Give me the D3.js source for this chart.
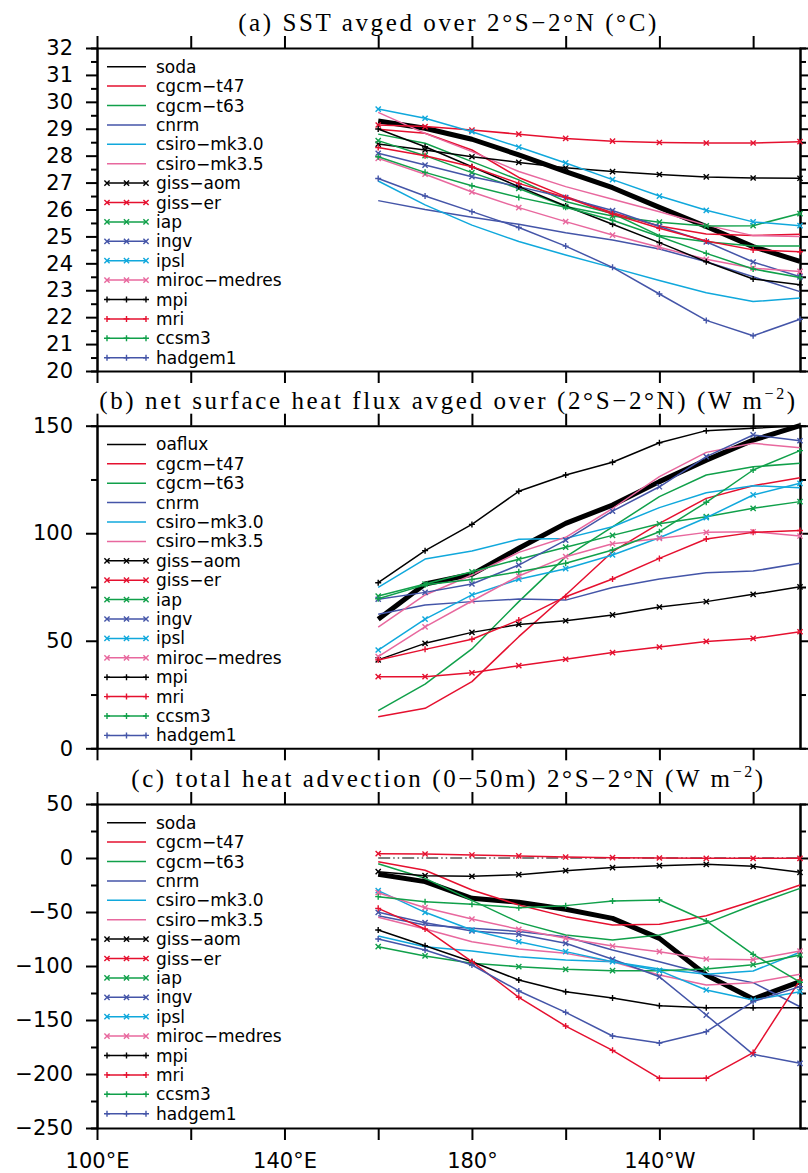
<!DOCTYPE html>
<html><head><meta charset="utf-8">
<script src="https://cdn.jsdelivr.net/npm/d3@7"></script>
<style>body{margin:0;background:#fff}svg{display:block}</style>
</head><body>
<svg id="chart" width="808" height="1173"></svg>
<script>
// ---------- categories ----------
const lon = [160, 170, 180, 190, 200, 210, 220, 230, 240, 250];
const lonTicks = [100, 120, 140, 160, 180, 200, 220, 240];
const lonLabels = {100: "100°E", 140: "140°E", 180: "180°", 220: "140°W"};
const namesA = ["soda","cgcm−t47","cgcm−t63","cnrm","csiro−mk3.0","csiro−mk3.5","giss−aom","giss−er","iap","ingv","ipsl","miroc−medres","mpi","mri","ccsm3","hadgem1"];
const namesB = ["oaflux","cgcm−t47","cgcm−t63","cnrm","csiro−mk3.0","csiro−mk3.5","giss−aom","giss−er","iap","ingv","ipsl","miroc−medres","mpi","mri","ccsm3","hadgem1"];
const namesC = namesA;
const seriesColors = ["#000000","#e5102f","#10a04a","#4455a8","#10a8dc","#e8689e","#000000","#e5102f","#10a04a","#4455a8","#10a8dc","#e8689e","#000000","#e5102f","#10a04a","#4455a8"];
const seriesMarkers = ["none","none","none","none","none","none","x","x","x","x","x","x","+","+","+","+"];

// ---------- (a) SST ----------
const sstSoda    = [29.29,29.02,28.61,28.03,27.41,26.81,26.08,25.37,24.62,24.07];
const sstCgcmT47 = [28.98,28.83,28.21,27.19,26.48,25.88,25.39,25.09,25.03,25.08];
const sstCgcmT63 = [28.80,28.46,27.78,27.10,26.30,25.85,25.03,24.80,24.64,24.64];
const sstCnrm    = [26.33,26.00,25.71,25.45,25.14,24.87,24.53,24.06,23.50,22.95];
const sstCsiro30 = [27.06,26.17,25.42,24.81,24.31,23.84,23.36,22.91,22.58,22.71];
const sstCsiro35 = [29.61,28.83,28.15,27.41,26.85,26.38,25.92,25.42,25.03,25.00];
const sstGissAom = [28.43,28.21,27.96,27.75,27.55,27.41,27.30,27.21,27.17,27.16];
const sstGissEr  = [29.14,29.08,28.95,28.80,28.64,28.54,28.49,28.47,28.47,28.52];
const sstIap     = [28.56,28.00,27.37,26.78,26.11,25.76,25.53,25.39,25.40,25.85];
const sstIngv    = [28.09,27.65,27.22,26.85,26.44,25.96,25.37,24.80,24.05,23.50];
const sstIpsl    = [29.73,29.39,28.89,28.32,27.73,27.11,26.50,25.97,25.54,25.40];
const sstMiroc   = [27.90,27.31,26.65,26.07,25.55,25.05,24.60,24.15,23.82,23.70];
const sstMpi     = [28.99,28.33,27.59,26.85,26.13,25.45,24.77,24.06,23.42,23.20];
const sstMri     = [28.30,28.00,27.59,26.97,26.45,25.83,25.30,24.83,24.50,24.43];
const sstCcsm3   = [27.96,27.38,26.88,26.45,26.08,25.60,25.00,24.37,23.79,23.47];
const sstHadgem1 = [27.15,26.50,25.92,25.33,24.64,23.85,22.86,21.88,21.31,21.92];

// ---------- (b) net surface heat flux ----------
const qOaflux  = [60.0,76.4,80.9,93.0,104.6,113.1,124.0,134.0,143.3,150.0];
const qCgcmT47 = [14.7,18.6,31.0,51.9,71.3,91.4,104.6,116.2,122.1,125.8];
const qCgcmT63 = [17.5,29.8,46.2,68.2,89.0,103.0,117.0,127.1,130.9,132.5];
const qCnrm    = [62.3,66.6,68.2,69.4,68.9,74.8,78.7,81.6,82.4,86.0];
const qCsiro30 = [74.8,88.0,91.7,97.2,97.6,103.0,111.9,118.8,122.1,121.2];
const qCsiro35 = [56.3,71.3,80.6,91.1,98.1,111.5,126.3,137.6,141.8,139.8];
const qGissAom = [41.1,48.8,53.9,57.6,59.3,62.0,65.7,68.2,71.6,75.1];
const qGissEr  = [33.3,33.3,35.1,38.4,41.4,44.5,47.1,49.7,51.1,54.2];
const qIap     = [70.8,76.4,82.1,87.9,93.5,99.0,104.4,107.7,111.6,114.7];
const qIngv    = [69.3,72.5,76.4,85.2,96.8,110.3,121.6,135.6,145.7,143.0];
const qIpsl    = [45.7,60.1,71.3,78.6,83.5,89.9,97.9,107.2,117.8,123.2];
const qMiroc   = [42.6,56.5,68.5,80.1,89.1,95.1,97.6,100.4,100.7,98.7];
const qMpi     = [77.0,91.9,104.1,119.5,127.1,133.0,142.1,147.7,148.8,150.0];
const qMri     = [41.1,46.0,50.7,59.6,70.5,78.7,88.3,97.3,100.4,101.3];
const qCcsm3   = [69.5,76.0,78.5,82.1,86.0,92.2,100.7,114.4,129.4,138.4];
const qHadgem1 = null;

// ---------- (c) total heat advection ----------
const advSoda    = [-15.1,-21.9,-37.3,-41.0,-47.5,-55.9,-74.4,-108.3,-130.6,-114.5];
const advCgcmT47 = [-3.4,-11.4,-29.6,-43.5,-54.3,-62.0,-61.4,-53.4,-39.8,-25.0];
const advCgcmT63 = [-5.3,-18.8,-39.2,-59.6,-71.3,-75.9,-71.3,-60.5,-43.5,-28.1];
const advCnrm    = [-53.4,-62.0,-65.1,-68.0,-73.0,-85.2,-96.0,-107.4,-115.4,-137.7];
const advCsiro30 = [-72.2,-82.1,-86.1,-91.4,-94.4,-96.0,-102.8,-107.7,-104.6,-87.3];
const advCsiro35 = [-54.9,-65.7,-77.5,-84.3,-88.3,-96.0,-108.3,-117.6,-115.4,-107.7];
const advGissAom = [-12.7,-16.4,-17.0,-15.4,-11.7,-8.9,-7.1,-5.9,-7.7,-13.3];
const advGissEr  = [4.0,3.7,2.8,1.9,0.9,0.3,0.0,-0.3,-0.3,-0.3];
const advIap     = [-82.1,-90.7,-97.5,-100.6,-103.1,-104.3,-104.3,-102.8,-98.8,-89.8];
const advIngv    = [-50.3,-59.9,-67.6,-70.7,-79.0,-93.8,-110.0,-145.4,-181.8,-190.1];
const advIpsl    = [-30.2,-50.3,-66.7,-77.5,-86.7,-96.0,-104.3,-122.2,-131.5,-123.8];
const advMiroc   = [-32.1,-46.0,-56.5,-66.0,-74.4,-81.5,-86.7,-93.5,-94.1,-86.1];
const advMpi     = [-66.7,-81.2,-96.0,-113.0,-123.8,-129.6,-136.7,-138.6,-138.6,-138.6];
const advMri     = [-46.6,-65.7,-96.0,-129.0,-155.6,-178.1,-204.0,-204.0,-180.2,-113.0];
const advCcsm3   = [-35.8,-40.4,-42.9,-46.0,-44.1,-39.8,-38.9,-58.3,-89.2,-115.0];
const advHadgem1 = [-75.0,-85.2,-99.1,-123.1,-142.9,-164.8,-171.3,-160.8,-133.0,-119.1];
const advZeroRef = [0,0,0,0,0,0,0,0,0,0];

// ---------- layout ----------
const svg = d3.select("#chart");
const L = 97, R = 800;
const x = d3.scaleLinear().domain([100, 250]).range([L, R]);

const panels = [
  { top: 48, bottom: 371, domain: [20, 32], major: d3.range(20, 33, 1), minor: d3.range(20.5, 32, 1),
    title: ["(a) SST avged over 2°S−2°N (°C)", null, null], names: namesA,
    data: [sstSoda,sstCgcmT47,sstCgcmT63,sstCnrm,sstCsiro30,sstCsiro35,sstGissAom,sstGissEr,sstIap,sstIngv,sstIpsl,sstMiroc,sstMpi,sstMri,sstCcsm3,sstHadgem1] },
  { top: 425.7, bottom: 748.3, domain: [0, 150], major: [0, 50, 100, 150], minor: [25, 75, 125],
    title: ["(b) net surface heat flux avged over (2°S−2°N) (W m", "−2", ")"], names: namesB,
    data: [qOaflux,qCgcmT47,qCgcmT63,qCnrm,qCsiro30,qCsiro35,qGissAom,qGissEr,qIap,qIngv,qIpsl,qMiroc,qMpi,qMri,qCcsm3,qHadgem1] },
  { top: 804, bottom: 1128, domain: [-250, 50], major: d3.range(-250, 51, 50), minor: d3.range(-225, 50, 50),
    title: ["(c) total heat advection (0−50m) 2°S−2°N (W m", "−2", ")"], names: namesC, zero: advZeroRef,
    data: [advSoda,advCgcmT47,advCgcmT63,advCnrm,advCsiro30,advCsiro35,advGissAom,advGissEr,advIap,advIngv,advIpsl,advMiroc,advMpi,advMri,advCcsm3,advHadgem1], xlabels: true }
];

function drawMarker(g, type, cx, cy, color) {
  if (type === "x") {
    const s = 2.6;
    g.append("path").attr("d", `M${cx-s},${cy-s}L${cx+s},${cy+s}M${cx-s},${cy+s}L${cx+s},${cy-s}`)
      .attr("stroke", color).attr("stroke-width", 1.4).attr("fill", "none");
  } else if (type === "+") {
    const s = 3;
    g.append("path").attr("d", `M${cx-s},${cy}L${cx+s},${cy}M${cx},${cy-s}L${cx},${cy+s}`)
      .attr("stroke", color).attr("stroke-width", 1.4).attr("fill", "none");
  }
}

const tickFont = "DejaVu Sans, Verdana, sans-serif";

panels.forEach((p, pi) => {
  const y = d3.scaleLinear().domain(p.domain).range([p.bottom, p.top]);
  const g = svg.append("g");

  // title
  const t = g.append("text").attr("x", (L + R) / 2).attr("y", p.top - 17)
    .attr("text-anchor", "middle").attr("font-family", "Liberation Serif, Times New Roman, serif")
    .attr("font-size", 25).attr("letter-spacing", 2.6).attr("fill", "#000");
  t.append("tspan").text(p.title[0]);
  if (p.title[1]) {
    t.append("tspan").attr("dy", -10).attr("font-size", 16).text(p.title[1]);
    t.append("tspan").attr("dy", 10).text(p.title[2]);
  }

  // axes
  const styleAxis = sel => {
    sel.selectAll(".domain").attr("stroke", "#000").attr("stroke-width", 2);
    sel.selectAll(".tick line").attr("stroke", "#000").attr("stroke-width", 2);
    sel.selectAll("text").attr("font-family", tickFont).attr("font-size", 21).attr("fill", "#000");
  };
  g.append("g").attr("transform", `translate(${L},0)`)
    .call(d3.axisLeft(y).tickValues(p.minor).tickSize(6).tickFormat("")).call(styleAxis);
  g.append("g").attr("transform", `translate(${L},0)`)
    .call(d3.axisLeft(y).tickValues(p.major).tickSize(11).tickPadding(13).tickSizeOuter(0)).call(styleAxis);
  g.append("g").attr("transform", `translate(${R},0)`)
    .call(d3.axisRight(y).tickValues(p.minor).tickSize(6).tickFormat("")).call(styleAxis);
  g.append("g").attr("transform", `translate(${R},0)`)
    .call(d3.axisRight(y).tickValues(p.major).tickSize(11).tickFormat("").tickSizeOuter(0)).call(styleAxis);
  g.append("g").attr("transform", `translate(0,${p.top})`)
    .call(d3.axisTop(x).tickValues(lonTicks).tickSize(12).tickFormat("").tickSizeOuter(0)).call(styleAxis);
  g.append("g").attr("transform", `translate(0,${p.bottom})`)
    .call(d3.axisBottom(x).tickValues(lonTicks).tickSize(12).tickPadding(13).tickSizeOuter(0)
      .tickFormat(d => p.xlabels ? (lonLabels[d] || "") : "")).call(styleAxis);

  // zero reference line
  if (p.zero) {
    g.append("path").datum(p.zero)
      .attr("d", d3.line().x((d, i) => x(lon[i])).y(d => y(d)))
      .attr("stroke", "#555").attr("stroke-width", 1.6).attr("fill", "none")
      .attr("stroke-dasharray", "12,3,1.5,3,1.5,3");
  }

  // series
  p.data.forEach((arr, si) => {
    if (!arr) return;
    const col = seriesColors[si];
    const thick = si === 0;
    g.append("path").datum(arr)
      .attr("d", d3.line().x((d, i) => x(lon[i])).y(d => y(d)))
      .attr("stroke", col).attr("stroke-width", thick ? 5 : 1.5)
      .attr("stroke-linejoin", "round").attr("fill", "none");
    if (seriesMarkers[si] !== "none") {
      arr.forEach((d, i) => drawMarker(g, seriesMarkers[si], x(lon[i]), y(d), col));
    }
  });

  // legend
  p.names.forEach((name, si) => {
    const ry = p.top + 18.7 + si * 19.4;
    const col = seriesColors[si];
    g.append("line").attr("x1", 107).attr("x2", 146).attr("y1", ry).attr("y2", ry)
      .attr("stroke", col).attr("stroke-width", 1.5);
    if (seriesMarkers[si] !== "none") {
      [107, 126.5, 146].forEach(mx => drawMarker(g, seriesMarkers[si], mx, ry, col));
    }
    g.append("text").attr("x", 156).attr("y", ry + 6)
      .attr("font-family", tickFont).attr("font-size", 17).attr("fill", "#000").text(name);
  });
});
</script>
</body></html>
